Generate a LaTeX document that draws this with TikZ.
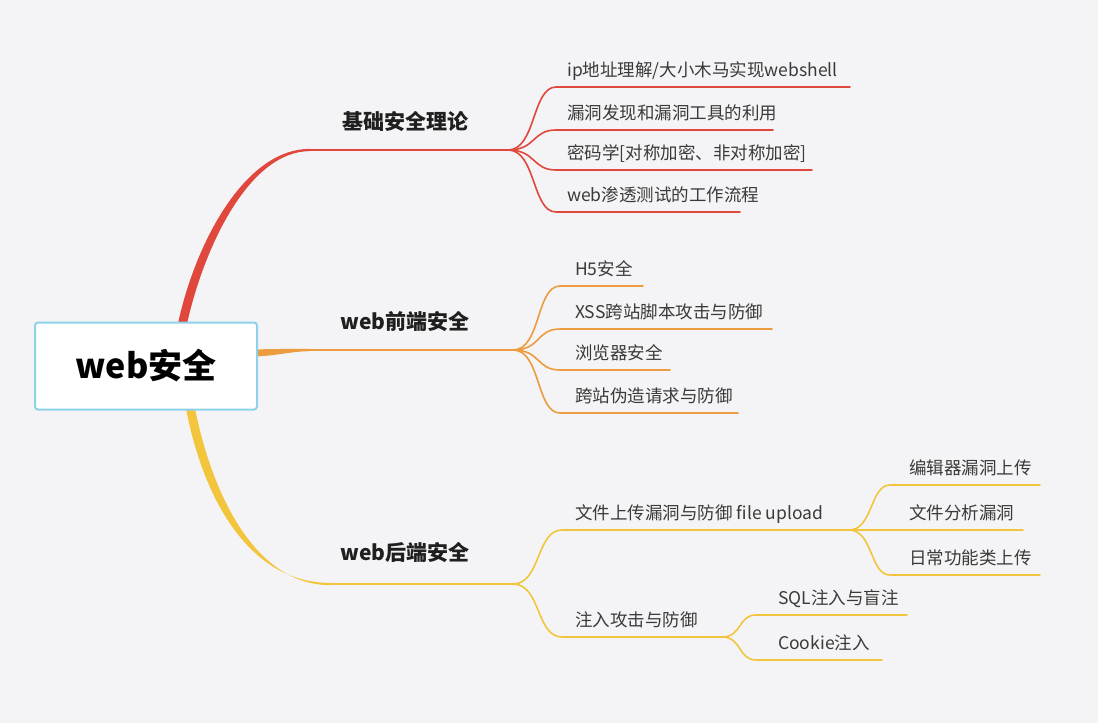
\documentclass[tikz,border=0pt]{standalone}
\usepackage{fontspec}
\setmainfont{Noto Sans CJK SC}
\usetikzlibrary{calc}
\definecolor{bg}{HTML}{F4F4F6}
\definecolor{cred}{HTML}{E0473D}
\definecolor{corange}{HTML}{EC9B3E}
\definecolor{cyellow}{HTML}{F2C53D}
\definecolor{cbox}{HTML}{8ED2EA}
\definecolor{ctext}{HTML}{3A3A3A}
\begin{document}
\begin{tikzpicture}[x=1pt,y=-1pt,
  leaf/.style={anchor=base west,inner sep=0pt,text=ctext,font=\fontsize{17.5}{20}\selectfont},
  branch/.style={inner sep=0pt,text=black!88,font=\bfseries\fontsize{21}{24}\selectfont},
  sub/.style={line width=1.6pt,line cap=round},
  trunk/.style={line width=2.2pt,line cap=round}]
\fill[bg] (0,0) rectangle (1098,723);
\useasboundingbox (0,0) rectangle (1098,723);

% junctions and trunk points
\coordinate (r0) at (182,326);
\coordinate (r1) at (310,150);
\coordinate (j1) at (508,150);
\coordinate (o0) at (250,353);
\coordinate (o1) at (310,350);
\coordinate (j2) at (513,350);
\coordinate (y0) at (190,406);
\coordinate (y1) at (330,584);
\coordinate (j3) at (513,584);
\coordinate (j4) at (849,530);
\coordinate (j5) at (722,637);

% main branches (tapered)
\fill[cred] ($(r0)+(-4.5,0)$) .. controls (193,250) and (242,148.8) .. ($(r1)+(0,-1.1)$)
  -- ($(r1)+(0,1.1)$) .. controls (248,151.2) and (203,250) .. ($(r0)+(4.5,0)$) -- cycle;
\draw[cred,trunk] (r1) -- (j1);
\fill[corange] ($(o0)+(0,-3.5)$) .. controls (275,349) and (290,348.8) .. ($(o1)+(0,-1.2)$)
  -- ($(o1)+(0,1.2)$) .. controls (290,351.2) and (275,356.5) .. ($(o0)+(0,3.5)$) -- cycle;
\draw[corange,trunk] (o1) -- (j2);
\fill[cyellow] ($(y0)+(-4.5,0)$) .. controls (203,500) and (250,582.9) .. ($(y1)+(0,-1.1)$)
  -- ($(y1)+(0,1.1)$) .. controls (258,585.1) and (213,500) .. ($(y0)+(4.5,0)$) -- cycle;
\draw[cyellow,trunk] (y1) -- (j3);

% branch labels
\node[branch] (b1) at (405,122) {基础安全理论};
\node[branch] (b2) at (405,322) {web前端安全};
\node[branch] (b3) at (405,553) {web后端安全};

% red leaves
\foreach \n/\yy/\ee/\t in {11/87/850/{ip地址理解/大小木马实现webshell},12/130/773/{漏洞发现和漏洞工具的利用},13/170/812/{密码学[对称加密、非对称加密]},14/212/740/{web渗透测试的工作流程}}{
  \coordinate (k\n) at (556,\yy);
  \coordinate (e\n) at (\ee,\yy);
  \node[leaf] (s\n) at (567,\yy-11) {\t};
  \draw[cred,sub] (j1) .. controls +(28,0) and +(-24,0) .. (k\n) -- (e\n);
}
% orange leaves
\foreach \n/\yy/\ee/\t in {21/286/643/{H5安全},22/329/772/{XSS跨站脚本攻击与防御},23/370/670/{浏览器安全},24/413/738/{跨站伪造请求与防御}}{
  \coordinate (k\n) at (560,\yy);
  \coordinate (e\n) at (\ee,\yy);
  \node[leaf] (s\n) at (575,\yy-11) {\t};
  \draw[corange,sub] (j2) .. controls +(28,0) and +(-24,0) .. (k\n) -- (e\n);
}
% yellow second level
\coordinate (k31) at (562,530);
\coordinate (k32) at (562,637);
\node[leaf] (s31) at (575,519) {文件上传漏洞与防御 file upload};
\node[leaf] (s32) at (575,626) {注入攻击与防御};
\draw[cyellow,sub] (j3) .. controls +(28,0) and +(-26,0) .. (k31) -- (j4);
\draw[cyellow,sub] (j3) .. controls +(28,0) and +(-26,0) .. (k32) -- (j5);
% yellow third level (file upload)
\foreach \n/\yy/\ee/\t in {41/485/1040/{编辑器漏洞上传},42/530/1023/{文件分析漏洞},43/575/1040/{日常功能类上传}}{
  \coordinate (k\n) at (890,\yy);
  \coordinate (e\n) at (\ee,\yy);
  \node[leaf] (s\n) at (909,\yy-11) {\t};
  \draw[cyellow,sub] (j4) .. controls +(24,0) and +(-20,0) .. (k\n) -- (e\n);
}
% yellow third level (injection)
\foreach \n/\yy/\ee/\t in {51/615/907/{SQL注入与盲注},52/660/882/{Cookie注入}}{
  \coordinate (k\n) at (756,\yy);
  \coordinate (e\n) at (\ee,\yy);
  \node[leaf] (s\n) at (778,\yy-11) {\t};
  \draw[cyellow,sub] (j5) .. controls +(20,0) and +(-18,0) .. (k\n) -- (e\n);
}

% root
\node[draw=cbox,line width=2pt,fill=white,rounded corners=3pt,minimum width=222pt,minimum height=87pt,inner sep=0pt,font=\bfseries\fontsize{34}{37}\selectfont] (root) at (146,366) {web安全};
\end{tikzpicture}
\end{document}
